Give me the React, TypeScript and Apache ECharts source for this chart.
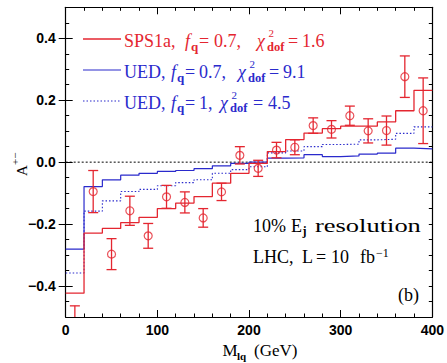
import React, { useEffect, useRef } from 'react';
import * as echarts from 'echarts';

// ---- data ----
const binEdges = [0, 20, 40, 60, 80, 100, 120, 140, 160, 180, 200, 220, 240, 260, 280, 300, 320, 340, 360, 380, 400];
const sps1aFq07 = [-0.423, -0.229, -0.214, -0.195, -0.178, -0.150, -0.132, -0.111, -0.068, -0.036, -0.004, 0.034, 0.073, 0.094, 0.108, 0.116, 0.116, 0.130, 0.166, 0.232];
const uedFq07 = [-0.281, -0.079, -0.057, -0.042, -0.036, -0.030, -0.027, -0.021, -0.012, -0.004, 0.000, 0.013, 0.014, 0.024, 0.018, 0.020, 0.026, 0.029, 0.045, 0.043];
const uedFq1 = [-0.358, -0.158, -0.125, -0.095, -0.088, -0.076, -0.066, -0.057, -0.036, -0.024, -0.015, 0.030, 0.036, 0.050, 0.057, 0.058, 0.072, 0.074, 0.093, 0.114];
const pseudoMass = [10, 30, 50, 70, 90, 110, 130, 150, 170, 190, 210, 230, 250, 270, 290, 310, 330, 350, 370, 390];
const pseudoAsym = [-0.53, -0.095, -0.297, -0.157, -0.238, -0.112, -0.130, -0.180, -0.096, 0.022, -0.020, 0.039, 0.048, 0.118, 0.106, 0.150, 0.101, 0.102, 0.276, 0.166];
const pseudoErr = [0.066, 0.068, 0.050, 0.047, 0.040, 0.037, 0.034, 0.030, 0.028, 0.028, 0.026, 0.025, 0.024, 0.025, 0.028, 0.031, 0.039, 0.047, 0.067, 0.106];
const xTickValues = [0, 100, 200, 300, 400];
const yTickValues = [-0.4, -0.2, 0, 0.2, 0.4];

const RED = '#e42630';
const BLUE = '#2a2acc';
const SERIF = '"Liberation Serif", "Times New Roman", serif';
const SANS = '"Liberation Sans", Arial, sans-serif';

let ctx2d: CanvasRenderingContext2D | null = null;
function measure(t: string, size: number, bold?: boolean, italic?: boolean) {
  if (!ctx2d) ctx2d = document.createElement('canvas').getContext('2d');
  if (!ctx2d) return t.length * size * 0.5;
  ctx2d.font = `${italic ? 'italic ' : ''}${bold ? 'bold ' : ''}${size}px ${SERIF}`;
  return ctx2d.measureText(t).width;
}

type Piece = { t: string; x: number; s: number; dy?: number; b?: boolean; i?: boolean; w?: number };

function pieces(list: Piece[], baseline: number, color: string): any[] {
  return list.map((p) => {
    const sx = p.w ? p.w / measure(p.t, p.s, p.b, p.i) : 1;
    return {
      type: 'text',
      x: p.x,
      y: baseline + (p.dy ?? 0) - 0.34 * p.s,
      scaleX: sx,
      silent: true,
      style: {
        text: p.t,
        fill: color,
        fontSize: p.s,
        fontFamily: SERIF,
        fontWeight: p.b ? 'bold' : 'normal',
        fontStyle: p.i ? 'italic' : 'normal',
        align: 'left',
        verticalAlign: 'middle',
      },
    };
  });
}

function legendEntry(name: string, fq: string, chi: string, x: number[], baseline: number, color: string): any[] {
  // x: [name, f, q, '=', fqVal, chi, dof, '=', chiVal]
  return pieces(
    [
      { t: name, x: x[0], s: 18 },
      { t: 'f', x: x[1], s: 18, i: true },
      { t: 'q', x: x[2], s: 13, b: true, dy: 3 },
      { t: '=', x: x[3], s: 18 },
      { t: fq, x: x[4], s: 18 },
      { t: 'χ', x: x[5], s: 18, i: true },
      { t: '2', x: x[6] + 1.5, s: 11, dy: -10.5 },
      { t: 'dof', x: x[6], s: 12.5, b: true, dy: 3.5 },
      { t: '=', x: x[7], s: 18 },
      { t: chi, x: x[8], s: 18 },
    ],
    baseline,
    color
  );
}

export default function App() {
  const ref = useRef<HTMLDivElement>(null);

  useEffect(() => {
    if (!ref.current) return;
    const chart = echarts.init(ref.current, undefined, { renderer: 'svg' });

    const stepPoints = (vals: number[]) =>
      binEdges.map((x, i) => [x, vals[Math.min(i, vals.length - 1)]]);

    const yLabel = (v: number) => (Math.abs(v) < 1e-9 ? '0.0' : (v < 0 ? '\u2212' : '') + Math.abs(v).toFixed(1));

    const axisBase = {
      type: 'value',
      splitLine: { show: false },
      axisLine: { show: true, onZero: false, lineStyle: { color: '#000', width: 1.2 } },
    };

    const graphics: any[] = [
      // legend samples
      { type: 'line', shape: { x1: 83, y1: 39, x2: 121, y2: 39 }, style: { stroke: RED, lineWidth: 1.3 }, silent: true },
      { type: 'line', shape: { x1: 83, y1: 70, x2: 121, y2: 70 }, style: { stroke: BLUE, lineWidth: 1.2 }, silent: true },
      { type: 'line', shape: { x1: 83, y1: 101, x2: 121, y2: 101 }, style: { stroke: BLUE, lineWidth: 1.1, lineDash: [1.5, 2] }, silent: true },
      ...legendEntry('SPS1a,', '0.7,', '1.6', [124, 185, 191, 199, 214, 257, 267, 288, 302], 47.5, RED),
      ...legendEntry('UED,', '0.7,', '9.1', [124, 171, 177, 185, 199, 238, 248, 269, 283], 78.5, BLUE),
      ...legendEntry('UED,', '1,', '4.5', [124, 171, 177, 185, 199, 220, 230, 253, 268], 109, BLUE),
      // annotation
      ...pieces(
        [
          { t: '10%', x: 253, s: 18 },
          { t: 'E', x: 291, s: 18 },
          { t: 'j', x: 302.5, s: 12, b: true, dy: 3 },
          { t: 'resolution', x: 315, s: 18, w: 106 },
        ],
        231.7,
        '#000'
      ),
      ...pieces(
        [
          { t: 'LHC,', x: 253, s: 18 },
          { t: 'L', x: 302, s: 18 },
          { t: '=', x: 316, s: 18 },
          { t: '10', x: 331, s: 18 },
          { t: 'fb', x: 360, s: 18 },
          { t: '\u22121', x: 376, s: 12, dy: -6 },
        ],
        262.7,
        '#000'
      ),
      ...pieces([{ t: '(b)', x: 398, s: 18 }], 301, '#000'),
      // x-axis name
      ...pieces(
        [
          { t: 'M', x: 222.5, s: 17 },
          { t: 'lq', x: 237, s: 11, b: true, dy: 3.5 },
          { t: '(GeV)', x: 254, s: 17 },
        ],
        356,
        '#000'
      ),
      // y-axis name (rotated)
      {
        type: 'group',
        x: 27,
        y: 176,
        rotation: Math.PI / 2,
        children: pieces(
          [
            { t: 'A', x: 0, s: 15 },
            { t: '+\u2212', x: 11, s: 11, dy: -8 },
          ],
          0,
          '#000'
        ),
      },
    ];

    const option: any = {
      animation: false,
      backgroundColor: '#fff',
      grid: { left: 65.7, right: 11.5, top: 7.3, bottom: 46, containLabel: false },
      xAxis: [
        {
          ...axisBase,
          position: 'bottom',
          min: 0,
          max: 400,
          interval: 100,
          axisTick: { show: true, inside: true, length: 7, lineStyle: { color: '#000', width: 1 } },
          minorTick: { show: true, splitNumber: 5, length: 3.5, lineStyle: { color: '#000', width: 1 } },
          axisLabel: {
            show: true,
            margin: 6,
            color: '#000',
            fontFamily: SANS,
            fontWeight: 'bold',
            fontSize: 14,
            customValues: xTickValues,
          },
        },
        {
          ...axisBase,
          position: 'top',
          min: 0,
          max: 400,
          interval: 100,
          axisTick: { show: true, inside: true, length: 7, lineStyle: { color: '#000', width: 1 } },
          minorTick: { show: true, splitNumber: 5, length: 3.5, lineStyle: { color: '#000', width: 1 } },
          axisLabel: { show: false },
        },
      ],
      yAxis: [
        {
          ...axisBase,
          position: 'left',
          min: -0.5,
          max: 0.5,
          interval: 0.05,
          axisTick: { show: true, inside: true, length: 3.5, lineStyle: { color: '#000', width: 1 } },
          axisLabel: { show: false },
        },
        {
          ...axisBase,
          position: 'left',
          min: -0.5,
          max: 0.5,
          interval: 0.05,
          axisLine: { show: false },
          axisTick: { show: true, inside: true, length: 7, customValues: yTickValues, lineStyle: { color: '#000', width: 1 } },
          axisLabel: {
            show: true,
            customValues: yTickValues,
            formatter: yLabel,
            margin: 10,
            color: '#000',
            fontFamily: SANS,
            fontWeight: 'bold',
            fontSize: 14,
          },
        },
        {
          ...axisBase,
          position: 'right',
          min: -0.5,
          max: 0.5,
          interval: 0.05,
          axisTick: { show: true, inside: true, length: 3.5, lineStyle: { color: '#000', width: 1 } },
          axisLabel: { show: false },
        },
        {
          ...axisBase,
          position: 'right',
          min: -0.5,
          max: 0.5,
          interval: 0.05,
          axisLine: { show: false },
          axisTick: { show: true, inside: true, length: 7, customValues: yTickValues, lineStyle: { color: '#000', width: 1 } },
          axisLabel: { show: false },
        },
      ],
      series: [
        {
          type: 'line',
          data: [
            [binEdges[0], 0],
            [binEdges[binEdges.length - 1], 0],
          ],
          symbol: 'none',
          silent: true,
          lineStyle: { color: '#000', width: 1, type: [2, 2] },
          z: 1,
        },
        {
          type: 'line',
          step: 'end',
          data: stepPoints(uedFq1),
          symbol: 'none',
          silent: true,
          lineStyle: { color: BLUE, width: 1.1, type: [1.5, 2] },
          z: 2,
        },
        {
          type: 'line',
          step: 'end',
          data: stepPoints(uedFq07),
          symbol: 'none',
          silent: true,
          lineStyle: { color: BLUE, width: 1.2 },
          z: 3,
        },
        {
          type: 'line',
          step: 'end',
          data: stepPoints(sps1aFq07),
          symbol: 'none',
          silent: true,
          lineStyle: { color: RED, width: 1.3 },
          z: 4,
        },
        {
          type: 'custom',
          silent: true,
          z: 5,
          data: pseudoMass.map((m, i) => [m, pseudoAsym[i], pseudoErr[i]]),
          encode: { x: 0, y: 1 },
          renderItem: (params: any, api: any) => {
            const x = api.value(0);
            const y = api.value(1);
            const e = api.value(2);
            const lo = Math.max(y - e, -0.5);
            const hi = Math.min(y + e, 0.5);
            const pLo = api.coord([x, lo]);
            const pHi = api.coord([x, hi]);
            const st = { stroke: RED, lineWidth: 1.3 };
            const children: any[] = [
              { type: 'line', shape: { x1: pLo[0], y1: pLo[1], x2: pHi[0], y2: pHi[1] }, style: st },
            ];
            const hw = 5;
            if (y - e >= -0.5) children.push({ type: 'line', shape: { x1: pLo[0] - hw, y1: pLo[1], x2: pLo[0] + hw, y2: pLo[1] }, style: st });
            if (y + e <= 0.5) children.push({ type: 'line', shape: { x1: pHi[0] - hw, y1: pHi[1], x2: pHi[0] + hw, y2: pHi[1] }, style: st });
            return { type: 'group', children };
          },
        },
        {
          type: 'scatter',
          clip: true,
          silent: true,
          z: 6,
          data: pseudoMass.map((m, i) => [m, pseudoAsym[i]]),
          symbol: 'circle',
          symbolSize: 8,
          itemStyle: { color: 'rgba(255,255,255,0)', borderColor: RED, borderWidth: 1.2 },
        },
      ],
      graphic: graphics,
    };

    chart.setOption(option);
    return () => chart.dispose();
  }, []);

  return (
    <div
      ref={ref}
      style={{ position: 'fixed', left: 0, top: 0, width: 447, height: 363, background: '#fff' }}
    />
  );
}
